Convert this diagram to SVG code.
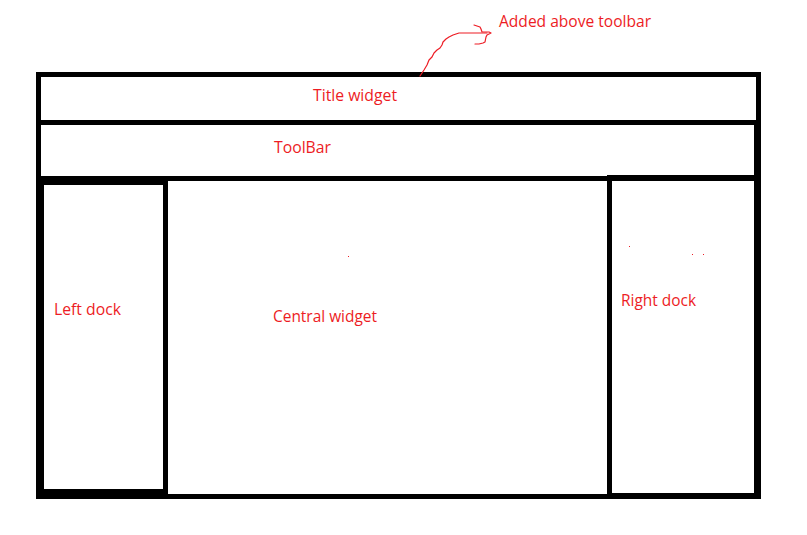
<svg xmlns="http://www.w3.org/2000/svg" width="807" height="535" viewBox="0 0 807 535">
<style>
.frame{fill:#000;fill-rule:evenodd}
.lbl{font-family:"Open Sans","Noto Sans",sans-serif;font-size:16px;fill:#ED1C24}
.pen{fill:none;stroke:#ED1C24;stroke-width:1.2;stroke-linejoin:round;stroke-linecap:round}
.dot{fill:#ED1C24}
</style>
<rect width="807" height="535" fill="#fff"/>
<g id="window">
<path class="frame" d="M36,72H761V499H36Z M41,77V494H756V77Z"/>
<rect class="frame" x="754" y="125" width="3" height="52"/>
</g>
<g id="title-widget">
<rect class="frame" x="36" y="120" width="720" height="5"/>
<text class="lbl" x="313" y="101" textLength="84" lengthAdjust="spacingAndGlyphs">Title widget</text>
</g>
<g id="toolbar">
<rect class="frame" x="36" y="176" width="725" height="5"/>
<text class="lbl" x="274" y="153" textLength="57" lengthAdjust="spacingAndGlyphs">ToolBar</text>
</g>
<g id="left-dock">
<path class="frame" d="M36,176H168V499H36Z M44,185V489H163V185Z"/>
<text class="lbl" x="54" y="315" textLength="67" lengthAdjust="spacingAndGlyphs">Left dock</text>
</g>
<g id="central-widget">
<text class="lbl" x="273" y="321.5" textLength="104" lengthAdjust="spacingAndGlyphs">Central widget</text>
<rect class="dot" x="348" y="256" width="1" height="1"/>
</g>
<g id="right-dock">
<path class="frame" d="M607,175H761V499H607Z M612,181V493H754V181Z"/>
<text class="lbl" x="621" y="306" textLength="75" lengthAdjust="spacingAndGlyphs">Right dock</text>
<rect class="dot" x="629" y="246" width="1" height="1"/>
<rect class="dot" x="692" y="254" width="1" height="1"/>
<rect class="dot" x="703" y="254" width="1" height="1"/>
</g>
<g id="annotation">
<text class="lbl" x="499" y="27" textLength="152" lengthAdjust="spacingAndGlyphs">Added above toolbar</text>
</g>
<g id="connectors">
<path class="pen" d="M420,76 L424,70 L427,65 L429,60 L432,57 L434,53 L437,50 L440,48 L442,45 L443,42 L446,39 L449,37 L453,35 L459,33 L487,33"/>
<path class="pen" d="M474,25 L480,27 L481,29 L482,32 L489,32 L491,33 L487,35 L486,37 L485,42 L483,43 L479,44 L475,44"/>
</g>
</svg>
